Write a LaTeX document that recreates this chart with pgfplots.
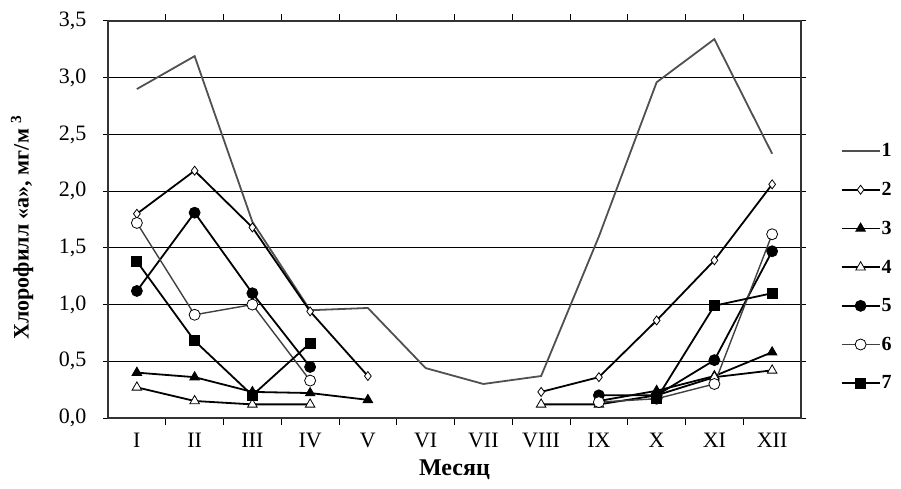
\documentclass[border=0pt]{standalone}
\usepackage{pgfplots}
\pgfplotsset{compat=1.18}
\usepackage{fontspec}
\setmainfont{Liberation Serif}
\definecolor{sone}{HTML}{505050}
\definecolor{ssix}{HTML}{404040}
\begin{document}
\begin{tikzpicture}[x=1pt,y=1pt]
\path[use as bounding box] (-108,-71) rectangle (793,418);
\begin{axis}[
  at={(0,0)}, anchor=south west,
  scale only axis, width=693pt, height=397pt,
  xmin=0.5, xmax=12.5, ymin=0, ymax=3.5,
  xtick={1,...,12},
  xticklabels={I,II,III,IV,V,VI,VII,VIII,IX,X,XI,XII},
  minor xtick={1.5,2.5,...,11.5},
  major x tick style={draw=none},
  minor tick length=7pt,
  major tick length=5pt,
  tick align=outside,
  tick style={black, line width=1pt},
  ytick={0,0.5,...,3.5},
  ymajorgrids,
  major grid style={black, line width=1.2pt},
  axis line style={black!80, line width=1.2pt},
  unbounded coords=jump,
  /pgf/number format/.cd, use comma, fixed, fixed zerofill, precision=1, assume math mode=true,
  /pgfplots/.cd,
  tick label style={font=\fontsize{22}{26}\selectfont},
  xticklabel style={yshift=-7pt},
  yticklabel style={xshift=-13pt},
  xlabel={Месяц},
  ylabel={Хлорофилл «а», мг/м \textsuperscript{3}},
  label style={font=\bfseries\fontsize{22}{26}\selectfont},
  xlabel style={at={(axis description cs:0.5,-0.131)}, anchor=center, font=\bfseries\fontsize{24}{28}\selectfont},
  ylabel style={at={(axis description cs:-0.124,0.48)}, anchor=center},
  legend style={draw=none, fill=none, at={(axis description cs:1.057,0.694)}, anchor=north west,
    font=\bfseries\fontsize{20}{23}\selectfont, row sep=22pt, inner sep=0pt,
    nodes={inner sep=1pt}},
  legend cell align=left,
  legend image code/.code={\draw[mark repeat=2,mark phase=2,#1] plot coordinates {(0pt,0pt) (19pt,0pt) (38pt,0pt)};},
]
\addplot[sone, line width=1.8pt, mark=none] coordinates {(1,2.90) (2,3.19) (3,1.73) (4,0.95) (5,0.97) (6,0.44) (7,0.30) (8,0.37) (9,1.60) (10,2.96) (11,3.34) (12,2.33)};
\addlegendentry{1}
\addplot[black, line width=1.8pt, mark=diamond*, mark size=4.5pt, mark options={fill=white, line width=0.8pt}] coordinates {(1,1.80) (2,2.18) (3,1.68) (4,0.94) (5,0.37) (6,nan) (8,0.23) (9,0.36) (10,0.86) (11,1.39) (12,2.06)};
\addlegendentry{2}
\addplot[black, line width=1.8pt, mark=triangle*, mark size=5.5pt, mark options={fill=black, line width=0.8pt}] coordinates {(1,0.40) (2,0.36) (3,0.23) (4,0.22) (5,0.16) (6,nan) (9,0.15) (10,0.24) (11,0.37) (12,0.58)};
\addlegendentry{3}
\addplot[black, line width=1.8pt, mark=triangle*, mark size=5.5pt, mark options={fill=white, line width=0.8pt}] coordinates {(1,0.27) (2,0.15) (3,0.12) (4,0.12) (5,nan) (8,0.12) (9,0.12) (10,0.20) (11,0.36) (12,0.42)};
\addlegendentry{4}
\addplot[black, line width=1.8pt, mark=*, mark size=5.5pt, mark options={fill=black, line width=0.8pt}] coordinates {(1,1.12) (2,1.81) (3,1.10) (4,0.45) (5,nan) (9,0.20) (10,0.20) (11,0.51) (12,1.47)};
\addlegendentry{5}
\addplot[ssix, line width=1.4pt, mark=*, mark size=5.5pt, mark options={fill=white, draw=black, line width=0.8pt}] coordinates {(1,1.72) (2,0.91) (3,1.00) (4,0.33) (5,nan) (9,0.14) (10,0.17) (11,0.30) (12,1.62)};
\addlegendentry{6}
\addplot[black, line width=1.8pt, mark=square*, mark size=5pt, mark options={fill=black, line width=0.8pt}] coordinates {(1,1.38) (2,0.68) (3,0.20) (4,0.66) (5,nan) (10,0.17) (11,0.99) (12,1.10)};
\addlegendentry{7}
\end{axis}
\end{tikzpicture}
\end{document}
